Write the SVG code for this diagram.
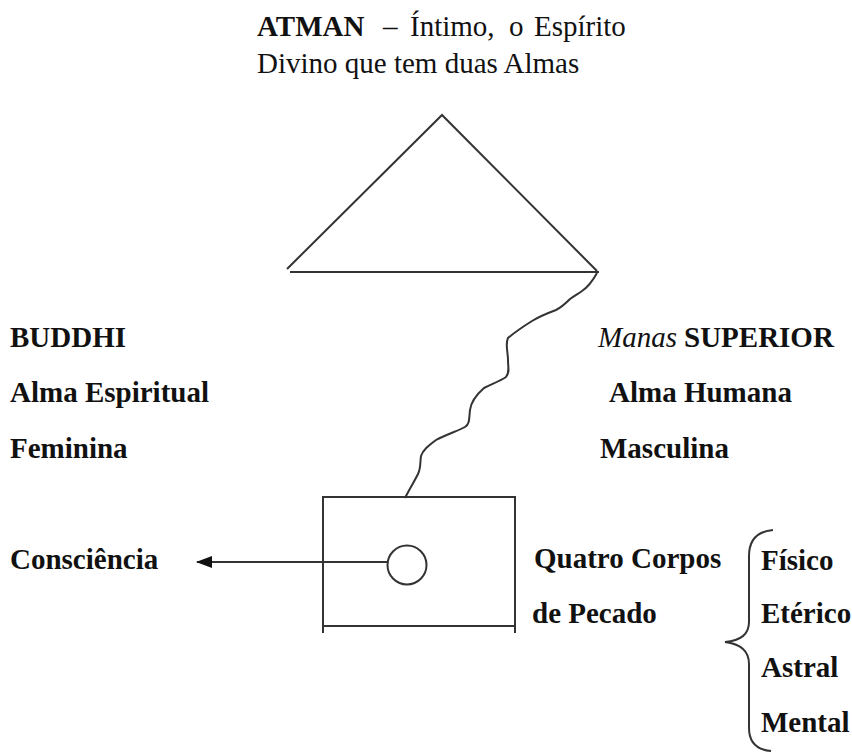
<svg xmlns="http://www.w3.org/2000/svg" width="852" height="752" viewBox="0 0 852 752">
<style>
text{font-family:"Liberation Serif","Times New Roman",serif;font-size:29px;fill:#111}
.b{font-weight:bold}
.i{font-style:italic}
.ln{fill:none;stroke:#333;stroke-width:2;stroke-linecap:butt}
</style>
<defs>
<marker id="ah" markerWidth="16" markerHeight="12" refX="15" refY="6" orient="auto" markerUnits="userSpaceOnUse">
<path d="M0,0 L16,6 L0,12 Z" fill="#111"/>
</marker>
</defs>
<rect width="852" height="752" fill="#fff"/>
<g id="atman">
<text y="36"><tspan class="b" x="257">ATMAN</tspan><tspan x="383">–</tspan><tspan x="410">Íntimo,</tspan><tspan x="509">o</tspan><tspan x="534">Espírito</tspan></text>
<text x="257" y="73">Divino que tem duas Almas</text>
<polyline class="ln" points="287,269 442,115 597,271"/>
<line class="ln" x1="290" y1="272" x2="599" y2="272"/>
</g>
<g id="buddhi">
<text class="b" x="10" y="347">BUDDHI</text>
<text class="b" x="10" y="402">Alma Espiritual</text>
<text class="b" x="10" y="458">Feminina</text>
</g>
<g id="manas">
<text y="347"><tspan class="i" x="598">Manas</tspan><tspan class="b" x="684">SUPERIOR</tspan></text>
<text class="b" x="609" y="402">Alma Humana</text>
<text class="b" x="600" y="458">Masculina</text>
</g>
<g id="corpo">
<polyline class="ln" points="323,633 323,497 515,497 515,633"/>
<line class="ln" x1="323" y1="626" x2="515" y2="626"/>
<circle class="ln" cx="407" cy="565" r="19.5"/>
</g>
<g id="consciencia">
<text class="b" x="10" y="569">Consciência</text>
</g>
<g id="quatro">
<text class="b" x="534" y="568">Quatro Corpos</text>
<text class="b" x="532" y="623">de Pecado</text>
</g>
<g id="corpos">
<path class="ln" d="M773,530 Q749,532 749,556 L749,622 Q749,640 725,642 Q749,645 749,664 L749,728 Q749,749 771,751"/>
<text class="b" x="761" y="570">Físico</text>
<text class="b" x="761" y="623">Etérico</text>
<text class="b" x="761" y="677">Astral</text>
<text class="b" x="761" y="732">Mental</text>
</g>
<g id="connectors">
<path class="ln" d="M597,273 C592,282 588,287 582,291 S574,296 570,299 C565,304 562,307 556,310 C548,313 540,316 532,321 S514,333 508,338 C505,344 508,352 508,360 S510,372 506,377 C500,381 492,384 484,388 C476,395 471,402 470,410 C469,418 470,424 465,427 S445,435 436,440 C428,446 423,450 421,456 C420,462 421,468 418,474 C414,482 409,490 405,498"/>
<line class="ln" x1="387" y1="562" x2="197" y2="562" marker-end="url(#ah)"/>
</g>
</svg>
